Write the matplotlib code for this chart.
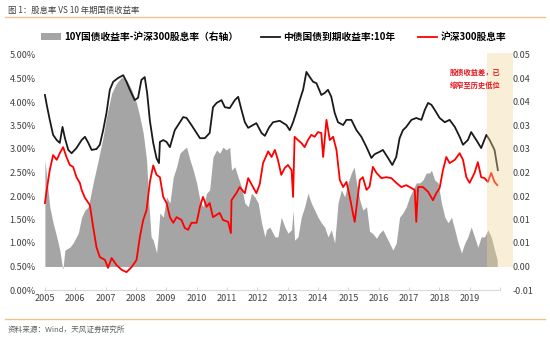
import matplotlib
matplotlib.use("Agg")
import matplotlib.pyplot as plt
from matplotlib.patches import Patch, Rectangle
from matplotlib.lines import Line2D
import numpy as np

plt.rcParams['font.family'] = ['Noto Sans CJK SC', 'DejaVu Sans']

# ---------------- data ----------------
bond_t = [2005.00, 2005.06, 2005.16, 2005.27, 2005.39, 2005.49, 2005.58, 2005.66, 2005.77, 2005.88,
          2006.04, 2006.21, 2006.32, 2006.43, 2006.54, 2006.70, 2006.81, 2006.92, 2007.03, 2007.14,
          2007.25, 2007.41, 2007.58, 2007.69, 2007.80, 2007.96, 2008.07, 2008.18, 2008.29, 2008.37,
          2008.46, 2008.57, 2008.68, 2008.76, 2008.79, 2008.90, 2009.01, 2009.12, 2009.28, 2009.45,
          2009.56, 2009.67, 2009.83, 2009.94, 2010.11, 2010.27, 2010.43, 2010.54, 2010.66, 2010.82,
          2010.93, 2011.09, 2011.26, 2011.37, 2011.48, 2011.59, 2011.70, 2011.86, 2011.97, 2012.14,
          2012.25, 2012.39, 2012.52, 2012.74, 2012.96, 2013.07, 2013.18, 2013.29, 2013.40, 2013.51,
          2013.62, 2013.73, 2013.84, 2013.95, 2014.11, 2014.22, 2014.33, 2014.44, 2014.55, 2014.66,
          2014.83, 2014.94, 2015.10, 2015.27, 2015.43, 2015.60, 2015.76, 2015.87, 2016.03, 2016.14,
          2016.31, 2016.45, 2016.58, 2016.69, 2016.80, 2016.91, 2017.08, 2017.24, 2017.41, 2017.52,
          2017.63, 2017.74, 2017.85, 2018.01, 2018.18, 2018.34, 2018.51, 2018.67, 2018.78, 2018.94,
          2019.05, 2019.22, 2019.38, 2019.55, 2019.66, 2019.82, 2019.93]
bond_yield = [4.15, 3.94, 3.62, 3.30, 3.19, 3.13, 3.47, 3.23, 2.98, 2.91,
              3.02, 3.19, 3.26, 3.13, 2.98, 3.00, 3.09, 3.40, 3.77, 4.26,
              4.43, 4.51, 4.57, 4.43, 4.26, 4.04, 4.09, 4.47, 4.53, 4.19,
              3.60, 3.13, 2.80, 2.70, 3.15, 3.19, 3.15, 3.04, 3.40, 3.57,
              3.68, 3.66, 3.51, 3.40, 3.23, 3.23, 3.34, 3.89, 3.98, 4.04,
              3.89, 3.87, 4.04, 4.11, 3.83, 3.57, 3.45, 3.51, 3.55, 3.34,
              3.28, 3.46, 3.57, 3.60, 3.51, 3.40, 3.57, 3.79, 4.04, 4.26,
              4.64, 4.53, 4.43, 4.40, 4.15, 4.19, 4.26, 4.11, 3.77, 3.57,
              3.51, 3.62, 3.62, 3.40, 3.26, 3.04, 2.81, 2.89, 2.94, 2.98,
              2.81, 2.66, 2.83, 3.23, 3.40, 3.47, 3.62, 3.66, 3.62, 3.83,
              3.98, 3.94, 3.83, 3.66, 3.57, 3.62, 3.47, 3.26, 3.09, 3.19,
              3.36, 3.19, 3.02, 3.30, 3.19, 2.98, 2.55]

div_t = [2005.00, 2005.06, 2005.16, 2005.27, 2005.39, 2005.49, 2005.60, 2005.71, 2005.82, 2005.93,
         2006.04, 2006.15, 2006.21, 2006.32, 2006.48, 2006.59, 2006.70, 2006.81, 2006.98, 2007.08,
         2007.20, 2007.36, 2007.53, 2007.69, 2007.86, 2008.02, 2008.13, 2008.24, 2008.35, 2008.46,
         2008.57, 2008.68, 2008.79, 2008.90, 2009.01, 2009.12, 2009.23, 2009.34, 2009.50, 2009.61,
         2009.72, 2009.83, 2010.00, 2010.11, 2010.21, 2010.33, 2010.43, 2010.54, 2010.66, 2010.76,
         2010.87, 2011.04, 2011.13, 2011.15, 2011.31, 2011.42, 2011.59, 2011.70, 2011.86, 2011.97,
         2012.08, 2012.19, 2012.36, 2012.47, 2012.58, 2012.68, 2012.79, 2012.91, 2013.01, 2013.13,
         2013.18, 2013.23, 2013.34, 2013.45, 2013.56, 2013.67, 2013.78, 2013.89, 2014.00, 2014.11,
         2014.17, 2014.28, 2014.39, 2014.50, 2014.61, 2014.72, 2014.83, 2014.94, 2015.05, 2015.15,
         2015.21, 2015.27, 2015.38, 2015.48, 2015.60, 2015.70, 2015.81, 2015.93, 2016.09, 2016.25,
         2016.42, 2016.58, 2016.75, 2016.91, 2017.08, 2017.19, 2017.24, 2017.30, 2017.46, 2017.63,
         2017.79, 2017.90, 2018.01, 2018.12, 2018.23, 2018.34, 2018.51, 2018.67, 2018.78, 2018.89,
         2019.00, 2019.16, 2019.27, 2019.38, 2019.49, 2019.60, 2019.71, 2019.82, 2019.91]
div_yield = [1.85, 2.13, 2.55, 2.87, 2.77, 2.91, 3.04, 2.83, 2.66, 2.62,
             2.40, 2.28, 2.13, 1.96, 1.81, 1.34, 0.91, 0.70, 0.64, 0.47,
             0.68, 0.53, 0.43, 0.38, 0.49, 0.64, 1.13, 1.49, 1.70, 2.30,
             2.65, 2.45, 2.40, 1.98, 1.85, 1.55, 1.43, 1.55, 1.49, 1.32,
             1.28, 1.43, 1.43, 1.77, 1.98, 1.77, 1.85, 1.55, 1.60, 1.64,
             1.49, 1.45, 1.21, 1.91, 2.06, 2.19, 2.06, 2.38, 2.19, 2.06,
             2.25, 2.70, 2.95, 2.83, 2.98, 2.77, 2.45, 2.60, 2.66, 2.55,
             1.98, 3.26, 3.19, 3.13, 3.04, 3.19, 3.30, 3.26, 3.36, 3.34,
             2.83, 3.62, 3.19, 3.26, 2.98, 2.34, 2.19, 2.30, 1.98, 1.64,
             1.45, 1.77, 2.34, 2.40, 2.13, 2.20, 2.62, 2.49, 2.38, 2.40,
             2.38, 2.28, 2.19, 2.23, 2.17, 2.13, 1.45, 2.19, 2.19, 2.09,
             1.91, 2.06, 2.17, 2.55, 2.83, 2.70, 2.77, 2.91, 2.77, 2.40,
             2.28, 2.49, 2.72, 2.40, 2.38, 2.30, 2.49, 2.30, 2.23]

spread_t = [2005.00, 2005.06, 2005.16, 2005.27, 2005.39, 2005.49, 2005.59, 2005.66, 2005.82, 2005.93,
            2006.10, 2006.21, 2006.32, 2006.43, 2006.59, 2006.76, 2006.92, 2007.03, 2007.20, 2007.36,
            2007.53, 2007.69, 2007.86, 2008.02, 2008.13, 2008.24, 2008.35, 2008.42, 2008.50, 2008.57,
            2008.68, 2008.73, 2008.79, 2008.90, 2009.01, 2009.12, 2009.23, 2009.34, 2009.45, 2009.56,
            2009.67, 2009.78, 2009.89, 2010.00, 2010.11, 2010.21, 2010.33, 2010.43, 2010.54, 2010.66,
            2010.76, 2010.87, 2010.98, 2011.09, 2011.15, 2011.26, 2011.37, 2011.48, 2011.59, 2011.70,
            2011.81, 2011.92, 2012.03, 2012.14, 2012.25, 2012.30, 2012.41, 2012.58, 2012.68, 2012.79,
            2012.91, 2013.01, 2013.13, 2013.18, 2013.23, 2013.34, 2013.45, 2013.56, 2013.67, 2013.78,
            2013.89, 2014.00, 2014.11, 2014.22, 2014.33, 2014.44, 2014.55, 2014.66, 2014.77, 2014.88,
            2014.99, 2015.10, 2015.19, 2015.27, 2015.38, 2015.48, 2015.60, 2015.70, 2015.81, 2015.93,
            2016.03, 2016.14, 2016.31, 2016.47, 2016.58, 2016.69, 2016.80, 2016.91, 2017.02, 2017.13,
            2017.24, 2017.35, 2017.46, 2017.57, 2017.68, 2017.74, 2017.85, 2017.96, 2018.07, 2018.18,
            2018.29, 2018.40, 2018.51, 2018.62, 2018.73, 2018.84, 2018.94, 2019.05, 2019.16, 2019.27,
            2019.38, 2019.49, 2019.60, 2019.71, 2019.82, 2019.91]
spread = [0.0227, 0.0190, 0.0127, 0.0093, 0.0063, 0.0035, -0.0007, 0.0035, 0.0041, 0.0050,
          0.0071, 0.0105, 0.0120, 0.0127, 0.0178, 0.0227, 0.0276, 0.0318, 0.0369, 0.0390,
          0.0403, 0.0397, 0.0376, 0.0348, 0.0318, 0.0284, 0.0227, 0.0141, 0.0063, 0.0056,
          0.0029, 0.0063, 0.0114, 0.0105, 0.0148, 0.0135, 0.0190, 0.0212, 0.0241, 0.0248,
          0.0254, 0.0227, 0.0205, 0.0178, 0.0141, 0.0127, 0.0156, 0.0163, 0.0233, 0.0248,
          0.0241, 0.0254, 0.0248, 0.0254, 0.0205, 0.0212, 0.0190, 0.0169, 0.0135, 0.0127,
          0.0156, 0.0148, 0.0135, 0.0093, 0.0063, 0.0078, 0.0084, 0.0063, 0.0063, 0.0105,
          0.0084, 0.0071, 0.0078, 0.0120, 0.0056, 0.0063, 0.0105, 0.0127, 0.0156, 0.0135,
          0.0120, 0.0105, 0.0093, 0.0084, 0.0063, 0.0078, 0.0050, 0.0135, 0.0163, 0.0148,
          0.0178, 0.0199, 0.0212, 0.0178, 0.0141, 0.0120, 0.0127, 0.0075, 0.0070, 0.0060,
          0.0071, 0.0078, 0.0056, 0.0035, 0.0050, 0.0105, 0.0114, 0.0127, 0.0148, 0.0163,
          0.0178, 0.0178, 0.0184, 0.0199, 0.0199, 0.0205, 0.0184, 0.0178, 0.0135, 0.0105,
          0.0093, 0.0105, 0.0078, 0.0050, 0.0029, 0.0050, 0.0063, 0.0084, 0.0063, 0.0041,
          0.0063, 0.0063, 0.0078, 0.0063, 0.0035, 0.0014]

year_ticks = list(range(2005, 2021))
year_labels = [str(y) for y in range(2005, 2020)] + [""]
left_ticks = [0.0, 0.5, 1.0, 1.5, 2.0, 2.5, 3.0, 3.5, 4.0, 4.5, 5.0]
right_ticks = [-0.005, 0.0, 0.005, 0.01, 0.015, 0.02, 0.025, 0.03, 0.035, 0.04, 0.045]
right_labels = ["-0.01", "0.00", "0.01", "0.01", "0.02", "0.02", "0.03", "0.03", "0.04", "0.04", "0.05"]
band_range = (2019.56, 2020.42)

title = "图 1：股息率 VS 10 年期国债收益率"
source = "资料来源：Wind，天风证券研究所"
legend_labels = ["10Y国债收益率-沪深300股息率（右轴）", "中债国债到期收益率:10年", "沪深300股息率"]
note = "股债收益差，已\n缩窄至历史低位"

# ---------------- figure ----------------
W, H = 550, 337
fig = plt.figure(figsize=(W / 100, H / 100), dpi=100)
ax = fig.add_axes([44 / W, 1 - 290 / H, (500 - 44) / W, 235 / H])
ax2 = ax.twinx()
ax2.set_zorder(ax.get_zorder() - 1)
ax.patch.set_visible(False)

gray = "#A5A5A5"
ax2.fill_between(spread_t, 0, spread, color=gray, lw=0, step=None)
ax2.set_ylim(-0.005, 0.045)
ax2.set_yticks(right_ticks)
ax2.set_yticklabels(right_labels)

ax.plot(bond_t, bond_yield, color="#1a1a1a", lw=1.3, zorder=3)
ax.plot(div_t, div_yield, color="#FF0000", lw=1.3, zorder=4)
ax.set_ylim(0, 5)
ax.set_yticks(left_ticks)
ax.set_yticklabels([f"{v:.2f}%" for v in left_ticks])
ax.set_xlim(2004.97, 2020.0)
ax.set_xticks(year_ticks)
ax.set_xticklabels(year_labels)

tick_color = "#404040"
for a in (ax, ax2):
    for s in a.spines.values():
        s.set_visible(False)
    a.tick_params(axis="y", length=0, labelsize=6.5, labelcolor=tick_color, pad=6)
ax.tick_params(axis="x", labelsize=6.5, labelcolor=tick_color, length=2.5, color="#D9D9D9",
               direction="in", pad=3)
ax2.tick_params(axis="y", pad=9)
ax.spines["bottom"].set_visible(True)
ax.spines["bottom"].set_color("#D9D9D9")
ax.spines["bottom"].set_linewidth(0.8)

# highlight band (on top, semi-transparent), drawn in data coordinates
band = Rectangle((band_range[0], 0.5), band_range[1] - band_range[0], 5.05 - 0.5,
                 facecolor=(0.94, 0.84, 0.58), alpha=0.38, lw=0, zorder=10, clip_on=False)
ax.add_patch(band)

fig.text(475 / W, 1 - 79 / H, note, color="#E8141C", fontsize=5.2, fontweight="bold",
         ha="center", va="center", linespacing=1.9)

# legend
handles = [Patch(facecolor=gray, edgecolor="none"),
           Line2D([], [], color="#1a1a1a", lw=1.3),
           Line2D([], [], color="#FF0000", lw=1.3)]
fig.legend(handles, legend_labels, loc="center", bbox_to_anchor=(274 / W, 1 - 37 / H), ncol=3,
           frameon=False, prop={"size": 7, "weight": "bold"}, handlelength=2.0, handleheight=0.6,
           handletextpad=0.35, columnspacing=2.3, borderpad=0)

# title / source and separator lines
fig.text(8 / W, 1 - 10 / H, title, fontsize=6, color="#404040", va="center", ha="left")
fig.text(8 / W, 1 - 330 / H, source, fontsize=5.5, color="#606060", va="center", ha="left")
line_col = "#F2C28E"
fig.add_artist(Line2D([5 / W, 545 / W], [1 - 17 / H, 1 - 17 / H], color=line_col, lw=1.0))
fig.add_artist(Line2D([5 / W, 545 / W], [1 - 319 / H, 1 - 319 / H], color=line_col, lw=1.0))

fig.savefig("out.png", dpi=100)
